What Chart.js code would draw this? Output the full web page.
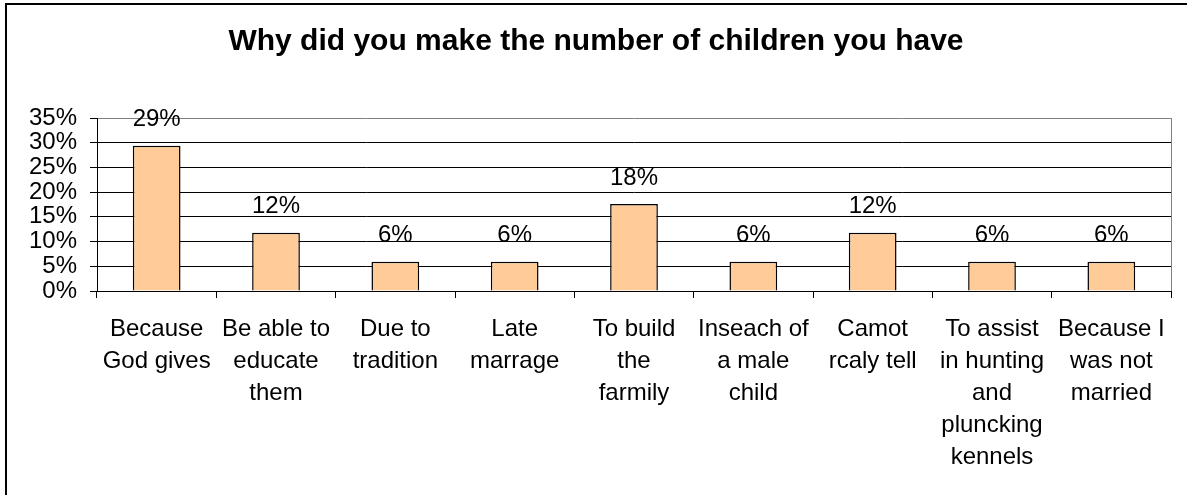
<!DOCTYPE html>
<html>
<head>
<meta charset="utf-8">
<script src="https://cdn.jsdelivr.net/npm/chart.js@4.4.1/dist/chart.umd.min.js"></script>
<style>
  html, body { margin: 0; padding: 0; background: #fff; }
  .wrap { position: relative; width: 1187px; height: 495px; overflow: hidden; }
  .frame {
    position: absolute; left: 5px; top: 3px; width: 1240px; height: 540px;
    border: 2px solid #000; pointer-events: none;
  }
</style>
</head>
<body>
<div class="wrap">
  <canvas id="chart" width="1187" height="495"></canvas>
  <div class="frame"></div>
</div>
<script>
const FONT       = "'Liberation Sans', Arial, sans-serif";
const BAR_FILL   = '#FFCC99';
const PLOT_EDGE  = '#808080';
const TEXT_SIZE  = 24;

const title = 'Why did you make the number of children you have';

// wrapped the way the original axis shows them
const categories = [
  ['Because', 'God gives'],
  ['Be able to', 'educate', 'them'],
  ['Due to', 'tradition'],
  ['Late', 'marrage'],
  ['To build', 'the', 'farmily'],
  ['Inseach of', 'a male', 'child'],
  ['Camot', 'rcaly tell'],
  ['To assist', 'in hunting', 'and', 'pluncking', 'kennels'],
  ['Because I', 'was not', 'married'],
];
const shares = [29.4, 11.8, 5.9, 5.9, 17.6, 5.9, 11.8, 5.9, 5.9];

const yMax  = 35;
const yStep = 5;

const valueLabels = {
  id: 'valueLabels',
  afterDatasetsDraw(chart) {
    const ctx = chart.ctx;
    const meta = chart.getDatasetMeta(0);
    ctx.save();
    ctx.font = `${TEXT_SIZE}px ${FONT}`;
    ctx.fillStyle = '#000';
    ctx.textAlign = 'center';
    ctx.textBaseline = 'middle';
    meta.data.forEach((bar, i) => {
      ctx.fillText(Math.round(shares[i]) + '%', bar.x, bar.y - 26);
    });
    ctx.restore();
  },
};

// grey plot-area edge on the right
const plotEdge = {
  id: 'plotEdge',
  afterDraw(chart) {
    const { ctx, chartArea: a } = chart;
    ctx.save();
    ctx.strokeStyle = PLOT_EDGE;
    ctx.lineWidth = 1;
    ctx.beginPath();
    ctx.moveTo(Math.round(a.right) + 0.5, a.top);
    ctx.lineTo(Math.round(a.right) + 0.5, a.bottom);
    ctx.stroke();
    ctx.restore();
  },
};

new Chart(document.getElementById('chart').getContext('2d'), {
  type: 'bar',
  data: {
    labels: categories,
    datasets: [{
      data: shares,
      backgroundColor: BAR_FILL,
      borderColor: '#000',
      borderWidth: 1.5,
      barPercentage: 0.4,
      categoryPercentage: 1,
    }],
  },
  options: {
    responsive: false,
    animation: false,
    devicePixelRatio: 1,
    layout: { padding: { left: 21, right: 16, top: 0, bottom: 0 } },
    plugins: {
      legend: { display: false },
      tooltip: { enabled: false },
      title: {
        display: true,
        text: title,
        color: '#000',
        font: { family: FONT, size: 30, weight: 'bold', lineHeight: 1.2 },
        padding: { top: 24, bottom: 58 },
      },
    },
    scales: {
      x: {
        offset: true,
        grid: {
          offset: true,
          drawOnChartArea: false,
          tickLength: 7,
          tickColor: '#000',
        },
        border: { color: '#000', width: 1 },
        ticks: {
          color: '#000',
          autoSkip: false,
          maxRotation: 0,
          minRotation: 0,
          padding: 15,
          font: { family: FONT, size: TEXT_SIZE, lineHeight: 32 / TEXT_SIZE },
        },
        afterFit: (s) => { s.height = 204; },
      },
      y: {
        min: 0,
        max: yMax,
        grid: {
          color: (c) => (c.tick && c.tick.value === yMax ? PLOT_EDGE : '#000'),
          tickColor: '#000',
          tickLength: 7,
          lineWidth: 1,
        },
        border: { color: '#000', width: 1 },
        ticks: {
          stepSize: yStep,
          autoSkip: false,
          color: '#000',
          padding: 13,
          font: { family: FONT, size: TEXT_SIZE },
          callback: (v) => v + '%',
        },
        afterFit: (s) => { s.width = 76; },
      },
    },
  },
  plugins: [valueLabels, plotEdge],
});
</script>
</body>
</html>
